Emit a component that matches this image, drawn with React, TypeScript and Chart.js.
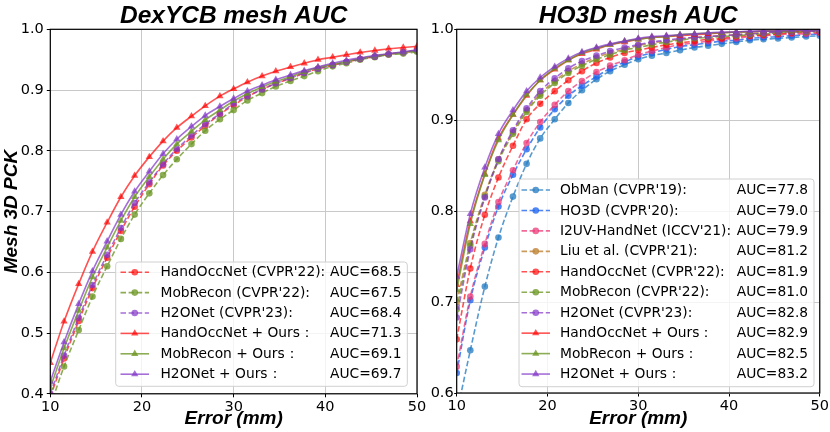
import React, { useEffect, useRef } from "react";
import { Chart, registerables } from "chart.js";

Chart.register(...registerables);

// ---------------- DATA ----------------
const X_ERR = [10.0, 11.5, 13.1, 14.6, 16.2, 17.7, 19.2, 20.8, 22.3, 23.8, 25.4, 26.9, 28.5, 30.0, 31.5, 33.1, 34.6, 36.2, 37.7, 39.2, 40.8, 42.3, 43.8, 45.4, 46.9, 48.5, 50.0];
const X_TICKS = [10, 20, 30, 40, 50];
const LEFT_Y_TICKS = [0.4, 0.5, 0.6, 0.7, 0.8, 0.9, 1.0];
const RIGHT_Y_TICKS = [0.6, 0.7, 0.8, 0.9, 1.0];

const LEFT_TITLE = "DexYCB mesh AUC";
const RIGHT_TITLE = "HO3D mesh AUC";
const X_LABEL = "Error (mm)";
const Y_LABEL = "Mesh 3D PCK";

// DexYCB
const DEX_NAMES = ["HandOccNet (CVPR'22):", "MobRecon (CVPR'22):", "H2ONet (CVPR'23):", "HandOccNet + Ours\uFF1A", "MobRecon + Ours\uFF1A", "H2ONet + Ours\uFF1A"];
const DEX_AUC = ["AUC=68.5", "AUC=67.5", "AUC=68.4", "AUC=71.3", "AUC=69.1", "AUC=69.7"];
const DEX_HANDOCCNET = [0.395, 0.458, 0.520, 0.574, 0.624, 0.668, 0.708, 0.745, 0.776, 0.800, 0.822, 0.841, 0.860, 0.875, 0.889, 0.901, 0.911, 0.919, 0.928, 0.935, 0.941, 0.946, 0.951, 0.955, 0.959, 0.962, 0.965];
const DEX_MOBRECON = [0.380, 0.445, 0.505, 0.560, 0.610, 0.655, 0.695, 0.730, 0.760, 0.786, 0.811, 0.833, 0.852, 0.867, 0.883, 0.895, 0.906, 0.915, 0.923, 0.931, 0.939, 0.944, 0.950, 0.954, 0.958, 0.960, 0.963];
const DEX_H2ONET = [0.400, 0.463, 0.525, 0.579, 0.629, 0.673, 0.714, 0.748, 0.778, 0.803, 0.825, 0.844, 0.861, 0.878, 0.890, 0.901, 0.911, 0.920, 0.928, 0.935, 0.941, 0.946, 0.951, 0.955, 0.959, 0.962, 0.965];
const DEX_HANDOCCNET_OURS = [0.451, 0.519, 0.581, 0.634, 0.682, 0.724, 0.759, 0.790, 0.816, 0.838, 0.857, 0.874, 0.890, 0.902, 0.913, 0.923, 0.931, 0.938, 0.944, 0.950, 0.954, 0.958, 0.962, 0.965, 0.968, 0.970, 0.972];
const DEX_MOBRECON_OURS = [0.410, 0.475, 0.537, 0.592, 0.641, 0.685, 0.724, 0.757, 0.786, 0.811, 0.832, 0.851, 0.867, 0.882, 0.894, 0.905, 0.914, 0.922, 0.930, 0.937, 0.942, 0.947, 0.952, 0.956, 0.959, 0.962, 0.965];
const DEX_H2ONET_OURS = [0.420, 0.485, 0.548, 0.602, 0.651, 0.695, 0.733, 0.766, 0.795, 0.819, 0.840, 0.858, 0.873, 0.886, 0.898, 0.908, 0.917, 0.925, 0.932, 0.938, 0.944, 0.949, 0.953, 0.957, 0.960, 0.963, 0.966];

// HO3D
const HO_NAMES = ["ObMan (CVPR'19):", "HO3D (CVPR'20):", "I2UV-HandNet (ICCV'21):", "Liu et al. (CVPR'21):", "HandOccNet (CVPR'22):", "MobRecon (CVPR'22):", "H2ONet (CVPR'23):", "HandOccNet + Ours\uFF1A", "MobRecon + Ours\uFF1A", "H2ONet + Ours\uFF1A"];
const HO_AUC = ["AUC=77.8", "AUC=79.0", "AUC=79.9", "AUC=81.2", "AUC=81.9", "AUC=81.0", "AUC=82.8", "AUC=82.9", "AUC=82.5", "AUC=83.2"];
const HO_OBMAN = [0.577, 0.647, 0.717, 0.771, 0.816, 0.852, 0.880, 0.901, 0.919, 0.933, 0.945, 0.954, 0.961, 0.967, 0.971, 0.974, 0.977, 0.980, 0.982, 0.984, 0.986, 0.988, 0.989, 0.990, 0.991, 0.992, 0.993];
const HO_HO3D = [0.622, 0.702, 0.760, 0.805, 0.840, 0.868, 0.892, 0.912, 0.927, 0.938, 0.948, 0.957, 0.964, 0.970, 0.974, 0.978, 0.981, 0.983, 0.985, 0.987, 0.988, 0.990, 0.991, 0.992, 0.993, 0.994, 0.995];
const HO_I2UV = [0.629, 0.706, 0.764, 0.810, 0.845, 0.875, 0.898, 0.917, 0.932, 0.943, 0.953, 0.960, 0.966, 0.972, 0.976, 0.980, 0.983, 0.985, 0.987, 0.989, 0.990, 0.992, 0.993, 0.994, 0.995, 0.995, 0.996];
const HO_LIU = [0.700, 0.765, 0.818, 0.857, 0.887, 0.911, 0.929, 0.943, 0.954, 0.962, 0.969, 0.974, 0.978, 0.982, 0.985, 0.987, 0.989, 0.991, 0.992, 0.993, 0.994, 0.995, 0.996, 0.997, 0.997, 0.998, 0.998];
const HO_HANDOCCNET = [0.659, 0.737, 0.796, 0.837, 0.872, 0.901, 0.918, 0.932, 0.944, 0.954, 0.963, 0.969, 0.974, 0.977, 0.980, 0.983, 0.985, 0.987, 0.989, 0.990, 0.992, 0.993, 0.994, 0.995, 0.996, 0.997, 0.997];
const HO_MOBRECON = [0.692, 0.762, 0.816, 0.855, 0.885, 0.909, 0.927, 0.941, 0.952, 0.960, 0.967, 0.972, 0.977, 0.980, 0.983, 0.986, 0.988, 0.990, 0.991, 0.992, 0.993, 0.994, 0.995, 0.996, 0.997, 0.997, 0.998];
const HO_H2ONET = [0.683, 0.758, 0.815, 0.857, 0.889, 0.913, 0.932, 0.946, 0.957, 0.965, 0.971, 0.976, 0.980, 0.983, 0.986, 0.988, 0.990, 0.991, 0.992, 0.993, 0.994, 0.995, 0.996, 0.997, 0.997, 0.998, 0.998];
const HO_HANDOCCNET_OURS = [0.719, 0.789, 0.841, 0.880, 0.906, 0.927, 0.944, 0.956, 0.966, 0.973, 0.978, 0.983, 0.986, 0.989, 0.991, 0.992, 0.993, 0.994, 0.995, 0.996, 0.997, 0.997, 0.998, 0.998, 0.998, 0.999, 0.999];
const HO_MOBRECON_OURS = [0.713, 0.786, 0.840, 0.878, 0.906, 0.928, 0.944, 0.957, 0.966, 0.974, 0.979, 0.983, 0.987, 0.989, 0.991, 0.992, 0.994, 0.995, 0.996, 0.996, 0.997, 0.997, 0.998, 0.998, 0.998, 0.999, 0.999];
const HO_H2ONET_OURS = [0.728, 0.797, 0.848, 0.885, 0.911, 0.932, 0.947, 0.959, 0.968, 0.975, 0.980, 0.984, 0.987, 0.990, 0.992, 0.993, 0.994, 0.995, 0.996, 0.997, 0.997, 0.998, 0.998, 0.998, 0.999, 0.999, 0.999];

// ---------------- STYLES ----------------
const C_RED = "rgba(255,0,0,0.68)";
const C_GREEN = "rgba(107,150,35,0.78)";
const C_PURPLE = "rgba(130,55,200,0.72)";
const C_OBMAN = "rgba(40,125,195,0.78)";
const C_HO3D = "rgba(30,100,240,0.78)";
const C_I2UV = "rgba(235,50,115,0.72)";
const C_LIU = "rgba(190,130,50,0.8)";

type Sty = { color: string; dashed: boolean; tri: boolean };
const DEX_STY: Sty[] = [
  { color: C_RED, dashed: true, tri: false },
  { color: C_GREEN, dashed: true, tri: false },
  { color: C_PURPLE, dashed: true, tri: false },
  { color: C_RED, dashed: false, tri: true },
  { color: C_GREEN, dashed: false, tri: true },
  { color: C_PURPLE, dashed: false, tri: true },
];
const HO_STY: Sty[] = [
  { color: C_OBMAN, dashed: true, tri: false },
  { color: C_HO3D, dashed: true, tri: false },
  { color: C_I2UV, dashed: true, tri: false },
  { color: C_LIU, dashed: true, tri: false },
  { color: C_RED, dashed: true, tri: false },
  { color: C_GREEN, dashed: true, tri: false },
  { color: C_PURPLE, dashed: true, tri: false },
  { color: C_RED, dashed: false, tri: true },
  { color: C_GREEN, dashed: false, tri: true },
  { color: C_PURPLE, dashed: false, tri: true },
];

const TICK_FONT = "DejaVu Sans";
const HEAD_FONT = "Liberation Sans";
const GRID = "#c9c9c9";
const DASH = [5.5, 2.6];
const CIRCLE_R = 3.3;
const TRI_R = 4.2;

function makeDatasets(names: string[], series: number[][], sty: Sty[]) {
  const n = series.length;
  return series.map((ys, i) => ({
    label: names[i],
    data: X_ERR.map((x, k) => ({ x, y: ys[k] })),
    borderColor: sty[i].color,
    backgroundColor: sty[i].color,
    pointBackgroundColor: sty[i].color,
    pointBorderColor: sty[i].color,
    pointBorderWidth: 0,
    borderWidth: 1.6,
    borderDash: sty[i].dashed ? DASH : [],
    pointStyle: sty[i].tri ? "triangle" : "circle",
    pointRadius: sty[i].tri ? TRI_R : CIRCLE_R,
    cubicInterpolationMode: "monotone",
    order: n - i,
  }));
}

type LegendCfg = { names: string[]; aucs: string[]; sty: Sty[]; box: [number, number, number, number]; row0: number; rowH: number; lineX: number; textX: number; aucX: number };

function makePlugins(title: string, legend: LegendCfg) {
  return [
    {
      id: "frameAndTitle",
      afterDatasetsDraw(chart: any) {
        const { ctx, chartArea: a } = chart;
        ctx.save();
        ctx.strokeStyle = "#000";
        ctx.lineWidth = 1.2;
        ctx.setLineDash([]);
        ctx.strokeRect(a.left, a.top, a.right - a.left, a.bottom - a.top);
        ctx.fillStyle = "#000";
        ctx.font = `italic bold 24.5px "${HEAD_FONT}"`;
        ctx.textAlign = "center";
        ctx.textBaseline = "alphabetic";
        ctx.fillText(title, (a.left + a.right) / 2, 23.3);
        ctx.restore();
      },
      afterDraw(chart: any) {
        const { ctx } = chart;
        const [bx, by, bw, bh] = legend.box;
        ctx.save();
        ctx.beginPath();
        if (ctx.roundRect) ctx.roundRect(bx, by, bw, bh, 3);
        else ctx.rect(bx, by, bw, bh);
        ctx.fillStyle = "rgba(255,255,255,0.8)";
        ctx.fill();
        ctx.strokeStyle = "#d0d0d0";
        ctx.lineWidth = 1;
        ctx.stroke();
        legend.names.forEach((name, i) => {
          const y = legend.row0 + i * legend.rowH;
          const s = legend.sty[i];
          ctx.strokeStyle = s.color;
          ctx.fillStyle = s.color;
          ctx.lineWidth = 1.6;
          ctx.setLineDash(s.dashed ? DASH : []);
          ctx.beginPath();
          ctx.moveTo(legend.lineX, y);
          ctx.lineTo(legend.lineX + 28.5, y);
          ctx.stroke();
          ctx.setLineDash([]);
          const cx = legend.lineX + 14.25;
          ctx.beginPath();
          if (s.tri) {
            const r = TRI_R;
            ctx.moveTo(cx, y - r);
            ctx.lineTo(cx + r * 0.866, y + r * 0.5);
            ctx.lineTo(cx - r * 0.866, y + r * 0.5);
            ctx.closePath();
          } else {
            ctx.arc(cx, y, CIRCLE_R, 0, Math.PI * 2);
          }
          ctx.fill();
          ctx.fillStyle = "#000";
          ctx.font = `13.8px "${TICK_FONT}"`;
          ctx.textAlign = "left";
          ctx.textBaseline = "middle";
          ctx.fillText(name, legend.textX, y + 0.5);
          ctx.fillText(legend.aucs[i], legend.aucX, y + 0.5);
        });
        ctx.restore();
      },
    },
  ];
}

function makeOptions(cfg: { padLeft: number; padRight: number; padTop: number; yW: number; xH: number; yTicks: number[]; yTitle: boolean; yPad: number; yTickLen: number }) {
  const yMin = cfg.yTicks[0];
  const yMax = cfg.yTicks[cfg.yTicks.length - 1];
  return {
    responsive: false,
    maintainAspectRatio: false,
    animation: false,
    events: [],
    layout: { padding: { left: cfg.padLeft, right: cfg.padRight, top: cfg.padTop, bottom: 0 } },
    plugins: { legend: { display: false }, title: { display: false }, tooltip: { enabled: false } },
    scales: {
      x: {
        type: "linear",
        min: X_TICKS[0],
        max: X_TICKS[X_TICKS.length - 1],
        afterBuildTicks: (s: any) => { s.ticks = X_TICKS.map((v) => ({ value: v })); },
        afterFit: (s: any) => { s.height = cfg.xH; },
        grid: { color: GRID, lineWidth: 1, drawTicks: true, tickLength: 3.5, tickColor: "#000", tickWidth: 1 },
        border: { display: false },
        ticks: { color: "#000", font: { family: TICK_FONT, size: 14.5 }, padding: 1, maxRotation: 0, autoSkip: false, callback: (v: any) => String(v) },
        title: { display: true, text: X_LABEL, color: "#000", font: { family: HEAD_FONT, size: 19, weight: "bold", style: "italic" }, padding: { top: 0, bottom: 1.8 } },
      },
      y: {
        type: "linear",
        min: yMin,
        max: yMax,
        afterBuildTicks: (s: any) => { s.ticks = cfg.yTicks.map((v) => ({ value: v })); },
        afterFit: (s: any) => { s.width = cfg.yW; },
        grid: { color: GRID, lineWidth: 1, drawTicks: true, tickLength: cfg.yTickLen, tickColor: "#000", tickWidth: 1 },
        border: { display: false },
        ticks: { color: "#000", font: { family: TICK_FONT, size: 14.5 }, padding: cfg.yPad, autoSkip: false, callback: (v: any) => Number(v).toFixed(1) },
        title: { display: cfg.yTitle, text: Y_LABEL, color: "#000", font: { family: HEAD_FONT, size: 19, weight: "bold", style: "italic" }, padding: { top: 0, bottom: 0 } },
      },
    },
  };
}

export default function App() {
  const leftRef = useRef<HTMLCanvasElement | null>(null);
  const rightRef = useRef<HTMLCanvasElement | null>(null);

  useEffect(() => {
    const left = new Chart(leftRef.current as HTMLCanvasElement, {
      type: "line",
      data: {
        datasets: makeDatasets(DEX_NAMES, [DEX_HANDOCCNET, DEX_MOBRECON, DEX_H2ONET, DEX_HANDOCCNET_OURS, DEX_MOBRECON_OURS, DEX_H2ONET_OURS], DEX_STY) as any,
      },
      options: makeOptions({ padLeft: 0, padRight: 830 - 417, padTop: 29.3, yW: 50.3, xH: 432 - 393.8, yTicks: LEFT_Y_TICKS, yTitle: true, yPad: 3, yTickLen: 3.5 }) as any,
      plugins: makePlugins(LEFT_TITLE, { names: DEX_NAMES, aucs: DEX_AUC, sty: DEX_STY, box: [115.7, 262, 291.6, 124.3], row0: 272.2, rowH: 20.4, lineX: 120.5, textX: 160.5, aucX: 330 }) as any,
    });
    const right = new Chart(rightRef.current as HTMLCanvasElement, {
      type: "line",
      data: {
        datasets: makeDatasets(HO_NAMES, [HO_OBMAN, HO_HO3D, HO_I2UV, HO_LIU, HO_HANDOCCNET, HO_MOBRECON, HO_H2ONET, HO_HANDOCCNET_OURS, HO_MOBRECON_OURS, HO_H2ONET_OURS], HO_STY) as any,
      },
      options: makeOptions({ padLeft: 415, padRight: 830 - 822.3, padTop: 29.3, yW: 41.7, xH: 432 - 393, yTicks: RIGHT_Y_TICKS, yTitle: false, yPad: 0.5, yTickLen: 2.5 }) as any,
      plugins: makePlugins(RIGHT_TITLE, { names: HO_NAMES, aucs: HO_AUC, sty: HO_STY, box: [519, 179, 295, 207.7], row0: 190, rowH: 20.45, lineX: 521.5, textX: 560, aucX: 736.7 }) as any,
    });
    return () => {
      left.destroy();
      right.destroy();
    };
  }, []);

  const cs: React.CSSProperties = { position: "absolute", left: 0, top: 0, width: 830, height: 432 };
  return (
    <div style={{ position: "fixed", left: 0, top: 0, width: 830, height: 432, background: "#fff", overflow: "hidden" }}>
      <canvas ref={leftRef} width={830} height={432} style={cs} />
      <canvas ref={rightRef} width={830} height={432} style={cs} />
    </div>
  );
}
